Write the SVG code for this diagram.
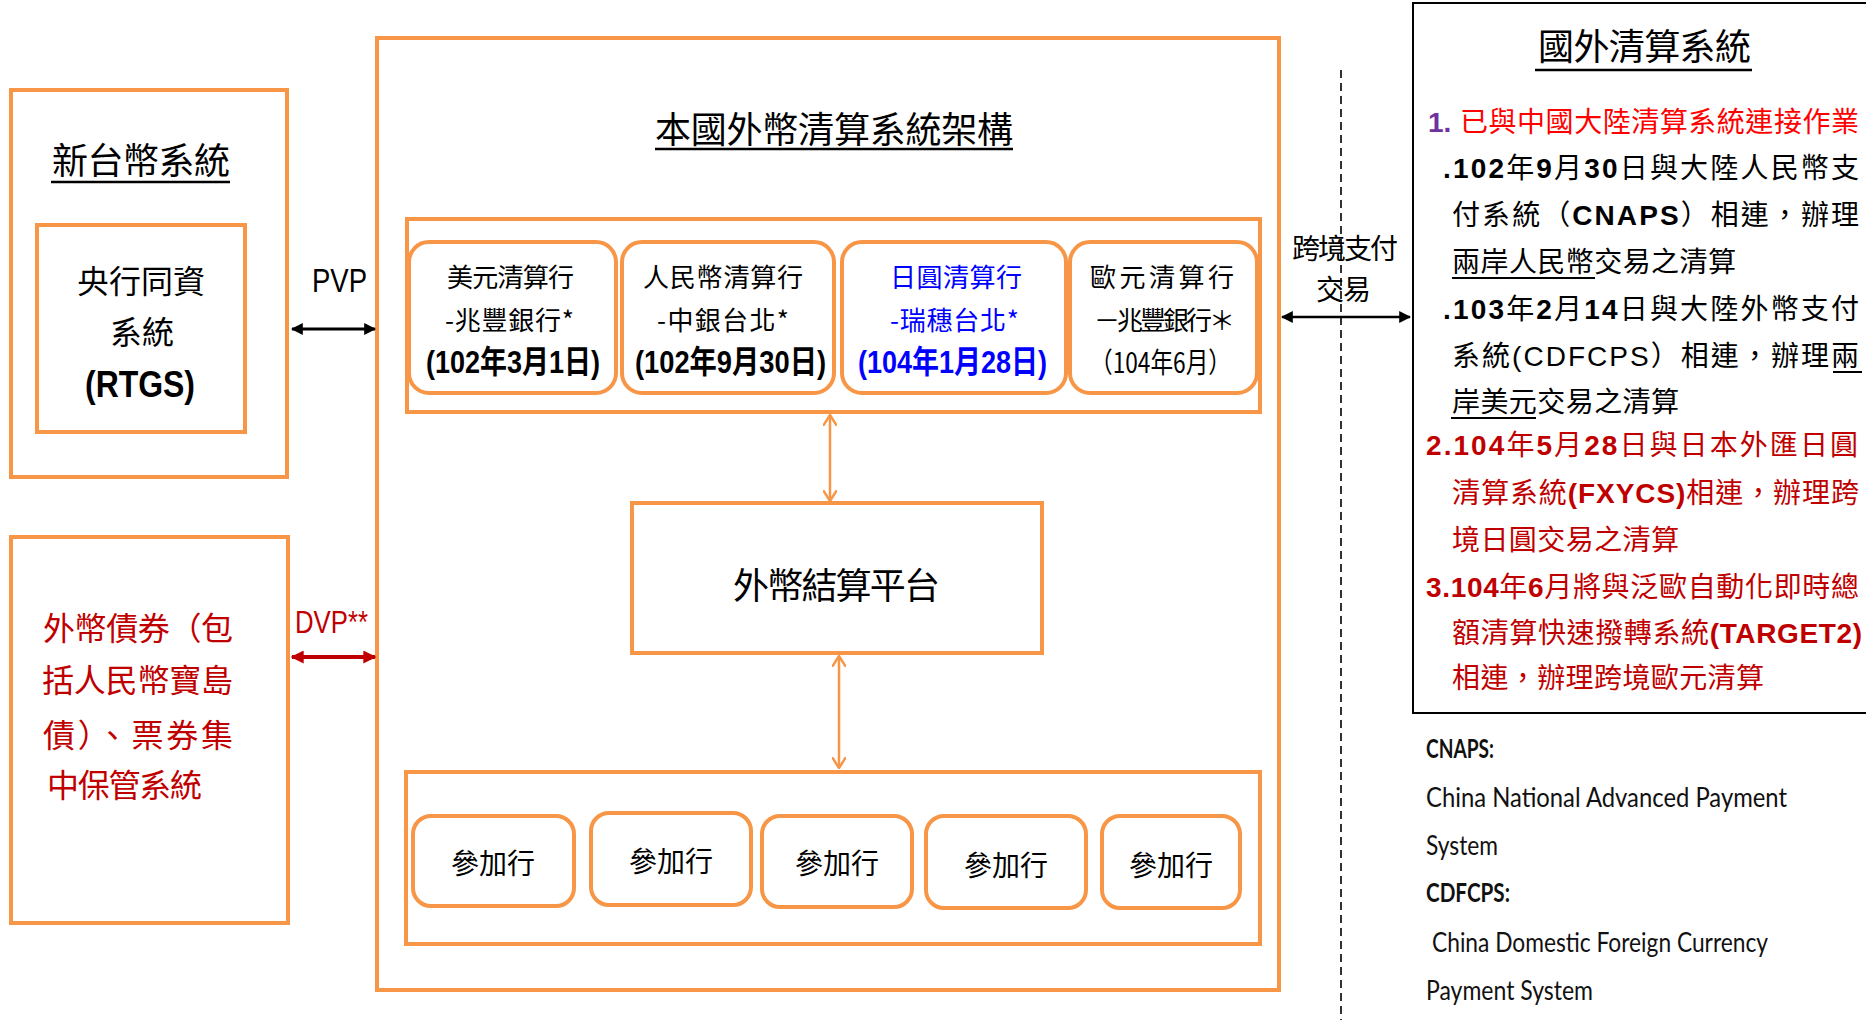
<svg xmlns="http://www.w3.org/2000/svg" width="1866" height="1020" viewBox="0 0 1866 1020">
<defs>
<style>
.ob{fill:#fff;stroke:#F79646;stroke-width:4}
.rb{fill:#fff;stroke:#F79646;stroke-width:4}
.cjk{font-family:"Noto Sans CJK TC","Noto Sans CJK SC",sans-serif}
.mix{font-family:"Liberation Sans","Noto Sans CJK TC",sans-serif}
.note{font-family:Lato,"Open Sans",sans-serif;font-size:27px;fill:#111}
.b{font-weight:bold}
.ul{stroke:#000;stroke-width:2.5}
</style>
<marker id="ahK" viewBox="0 0 10 10" refX="9" refY="5" markerWidth="12" markerHeight="12" markerUnits="userSpaceOnUse" orient="auto-start-reverse"><path d="M0,0 L10,5 L0,10 z" fill="#000"/></marker>
<marker id="ahR" viewBox="0 0 10 10" refX="9" refY="5" markerWidth="13" markerHeight="13" markerUnits="userSpaceOnUse" orient="auto-start-reverse"><path d="M0,0 L10,5 L0,10 z" fill="#C00000"/></marker>
<marker id="ahO" viewBox="0 0 12 14" refX="11" refY="7" markerWidth="12" markerHeight="14" markerUnits="userSpaceOnUse" orient="auto-start-reverse"><path d="M0,0 L11,7 L0,14" fill="none" stroke="#F79646" stroke-width="2.5"/></marker>
</defs>
<rect width="1866" height="1020" fill="#fff"/>

<!-- 新台幣系統 -->
<g id="ntd-system">
<rect class="ob" x="11" y="90" width="276" height="387"/>
<text class="cjk" x="52" y="174" font-size="36" textLength="178" lengthAdjust="spacing">新台幣系統</text>
<line class="ul" x1="51" y1="182" x2="230" y2="182"/>
</g>
<g id="rtgs">
<rect class="ob" x="37" y="225" width="208" height="207"/>
<text class="cjk" x="141" y="293" font-size="32" text-anchor="middle">央行同資</text>
<text class="cjk" x="142" y="344" font-size="32" text-anchor="middle">系統</text>
<text class="mix b" x="85" y="397" font-size="36" textLength="110" lengthAdjust="spacingAndGlyphs">(RTGS)</text>
</g>

<!-- 外幣債券 -->
<g id="bond-system">
<rect class="ob" x="11" y="537" width="277" height="386"/>
<g class="cjk" font-size="32" fill="#C00000">
<text x="43" y="640" textLength="190" lengthAdjust="spacing">外幣債券（包</text>
<text x="42" y="692" textLength="191" lengthAdjust="spacing">括人民幣寶島</text>
<text x="43" y="747" textLength="190" lengthAdjust="spacing">債）、票券集</text>
<text x="47" y="797" textLength="155" lengthAdjust="spacing">中保管系統</text>
</g>
</g>

<!-- 本國外幣清算系統架構 -->
<g id="domestic-architecture">
<rect class="ob" x="377" y="38" width="902" height="952"/>
<text class="cjk" x="655" y="143" font-size="36" textLength="358" lengthAdjust="spacing">本國外幣清算系統架構</text>
<line class="ul" x1="655" y1="149" x2="1013" y2="149"/>
</g>

<g id="clearing-banks">
<rect class="ob" x="407" y="219" width="853" height="193"/>
</g>
<g id="usd-bank">
<rect class="rb" x="409" y="242" width="207" height="151" rx="20"/>
<text class="cjk" x="447" y="287" font-size="26" textLength="127" lengthAdjust="spacing">美元清算行</text>
<text class="cjk" x="445" y="330" font-size="26" textLength="129" lengthAdjust="spacing">-兆豐銀行*</text>
<text class="mix b" x="426" y="373" font-size="32" textLength="174" lengthAdjust="spacingAndGlyphs">(102年3月1日)</text>
</g>
<g id="rmb-bank">
<rect class="rb" x="622" y="242" width="212" height="151" rx="20"/>
<text class="cjk" x="643" y="287" font-size="26" textLength="160" lengthAdjust="spacing">人民幣清算行</text>
<text class="cjk" x="657" y="330" font-size="26" textLength="132" lengthAdjust="spacing">-中銀台北*</text>
<text class="mix b" x="635" y="373" font-size="32" textLength="191" lengthAdjust="spacingAndGlyphs">(102年9月30日)</text>
</g>
<g id="jpy-bank">
<rect class="rb" x="842" y="242" width="224" height="151" rx="20"/>
<text class="cjk" x="890" y="287" font-size="26" fill="#0000FF" textLength="132" lengthAdjust="spacing">日圓清算行</text>
<text class="cjk" x="890" y="330" font-size="26" fill="#0000FF" textLength="129" lengthAdjust="spacing">-瑞穗台北*</text>
<text class="mix b" x="858" y="373" font-size="32" fill="#0000FF" textLength="189" lengthAdjust="spacingAndGlyphs">(104年1月28日)</text>
</g>
<g id="eur-bank">
<rect class="rb" x="1070" y="242" width="187" height="151" rx="20"/>
<text class="cjk" x="1090" y="287" font-size="26" textLength="144" lengthAdjust="spacing">歐元清算行</text>
<text class="cjk" x="1094" y="330" font-size="26" textLength="141" lengthAdjust="spacing">－兆豐銀行＊</text>
<text class="cjk" x="1090" y="373" font-size="28" textLength="141" lengthAdjust="spacingAndGlyphs">（104年6月）</text>
</g>

<g id="settlement-platform">
<rect class="ob" x="632" y="503" width="410" height="150"/>
<text class="cjk" x="733" y="599" font-size="36" textLength="207" lengthAdjust="spacing">外幣結算平台</text>
</g>

<g id="participants">
<rect class="ob" x="406" y="772" width="854" height="172"/>
</g>
<g id="participant-1"><rect class="rb" x="413" y="816" width="161" height="90" rx="18"/><text class="cjk" x="493" y="874" font-size="28" text-anchor="middle">參加行</text></g>
<g id="participant-2"><rect class="rb" x="591" y="813" width="160" height="92" rx="18"/><text class="cjk" x="671" y="872" font-size="28" text-anchor="middle">參加行</text></g>
<g id="participant-3"><rect class="rb" x="762" y="816" width="150" height="91" rx="18"/><text class="cjk" x="837" y="874" font-size="28" text-anchor="middle">參加行</text></g>
<g id="participant-4"><rect class="rb" x="926" y="816" width="160" height="92" rx="18"/><text class="cjk" x="1006" y="876" font-size="28" text-anchor="middle">參加行</text></g>
<g id="participant-5"><rect class="rb" x="1102" y="816" width="138" height="92" rx="18"/><text class="cjk" x="1171" y="876" font-size="28" text-anchor="middle">參加行</text></g>

<!-- 國外清算系統 -->
<g id="foreign-systems">
<rect x="1413" y="3" width="470" height="710" fill="#fff" stroke="#000" stroke-width="2"/>
<text class="cjk" x="1538" y="60" font-size="36" textLength="213" lengthAdjust="spacing">國外清算系統</text>
<line class="ul" x1="1535" y1="70" x2="1752" y2="70"/>
<g class="mix" font-size="28">
<text x="1428" y="132" fill="#7030A0" class="b">1.</text>
<text x="1460" y="132" fill="#FF0000" textLength="399" lengthAdjust="spacing">已與中國大陸清算系統連接作業</text>
<text x="1443" y="178" textLength="416" lengthAdjust="spacing"><tspan class="b">.102</tspan>年<tspan class="b">9</tspan>月<tspan class="b">30</tspan>日與大陸人民幣支</text>
<text x="1452" y="225" textLength="407" lengthAdjust="spacing">付系統（<tspan class="b">CNAPS</tspan>）相連，辦理</text>
<text x="1452" y="272" textLength="284" lengthAdjust="spacing">兩岸人民幣交易之清算</text>
<text x="1443" y="319" textLength="416" lengthAdjust="spacing"><tspan class="b">.103</tspan>年<tspan class="b">2</tspan>月<tspan class="b">14</tspan>日與大陸外幣支付</text>
<text x="1452" y="366" textLength="407" lengthAdjust="spacing">系統(CDFCPS）相連，辦理兩</text>
<text x="1452" y="412" textLength="227" lengthAdjust="spacing">岸美元交易之清算</text>
<g fill="#C00000">
<text x="1426" y="455" textLength="432" lengthAdjust="spacing"><tspan class="b">2.104</tspan>年<tspan class="b">5</tspan>月<tspan class="b">28</tspan>日與日本外匯日圓</text>
<text x="1452" y="503" textLength="407" lengthAdjust="spacing">清算系統<tspan class="b">(FXYCS)</tspan>相連，辦理跨</text>
<text x="1452" y="550" textLength="227" lengthAdjust="spacing">境日圓交易之清算</text>
<text x="1426" y="597" textLength="433" lengthAdjust="spacing"><tspan class="b">3.104</tspan>年<tspan class="b">6</tspan>月將與泛歐自動化即時總</text>
<text x="1452" y="643" textLength="410" lengthAdjust="spacing">額清算快速撥轉系統<tspan class="b">(TARGET2)</tspan></text>
<text x="1452" y="688" textLength="312" lengthAdjust="spacing">相連，辦理跨境歐元清算</text>
</g>
</g>
<g stroke="#000" stroke-width="2">
<line x1="1452" y1="278" x2="1595" y2="278"/>
<line x1="1833" y1="372" x2="1862" y2="372"/>
<line x1="1451" y1="418" x2="1536" y2="418"/>
</g>
</g>

<g id="abbreviations">
<text class="note b" x="1426" y="758" textLength="68" lengthAdjust="spacingAndGlyphs">CNAPS:</text>
<text class="note" x="1426" y="807" textLength="361" lengthAdjust="spacingAndGlyphs">China National  Advanced Payment</text>
<text class="note" x="1426" y="855" textLength="72" lengthAdjust="spacingAndGlyphs">System</text>
<text class="note b" x="1426" y="902" textLength="84" lengthAdjust="spacingAndGlyphs">CDFCPS:</text>
<text class="note" x="1432" y="952" textLength="336" lengthAdjust="spacingAndGlyphs">China Domestic Foreign Currency</text>
<text class="note" x="1426" y="1000" textLength="167" lengthAdjust="spacingAndGlyphs">Payment System</text>
</g>

<!-- connectors -->
<g id="connectors">
<line x1="1341" y1="70" x2="1341" y2="1020" stroke="#000" stroke-width="1.6" stroke-dasharray="8,5"/>
<line x1="292" y1="329" x2="375" y2="329" stroke="#000" stroke-width="3" marker-start="url(#ahK)" marker-end="url(#ahK)"/>
<text x="312" y="292" font-family="Liberation Sans,sans-serif" font-size="34" textLength="55" lengthAdjust="spacingAndGlyphs">PVP</text>
<line x1="292" y1="657" x2="375" y2="657" stroke="#C00000" stroke-width="4" marker-start="url(#ahR)" marker-end="url(#ahR)"/>
<text x="295" y="633" font-family="Liberation Sans,sans-serif" font-size="32" fill="#C00000" textLength="73" lengthAdjust="spacingAndGlyphs">DVP**</text>
<line x1="830" y1="415" x2="830" y2="501" stroke="#F79646" stroke-width="2.5" marker-start="url(#ahO)" marker-end="url(#ahO)"/>
<line x1="839" y1="656" x2="839" y2="768" stroke="#F79646" stroke-width="2.5" marker-start="url(#ahO)" marker-end="url(#ahO)"/>
<line x1="1282" y1="317" x2="1410" y2="317" stroke="#000" stroke-width="2.5" marker-start="url(#ahK)" marker-end="url(#ahK)"/>
<text class="cjk" x="1292" y="259" font-size="28" textLength="106" lengthAdjust="spacing">跨境支付</text>
<text class="cjk" x="1316" y="300" font-size="28" textLength="55" lengthAdjust="spacing">交易</text>
</g>
</svg>
